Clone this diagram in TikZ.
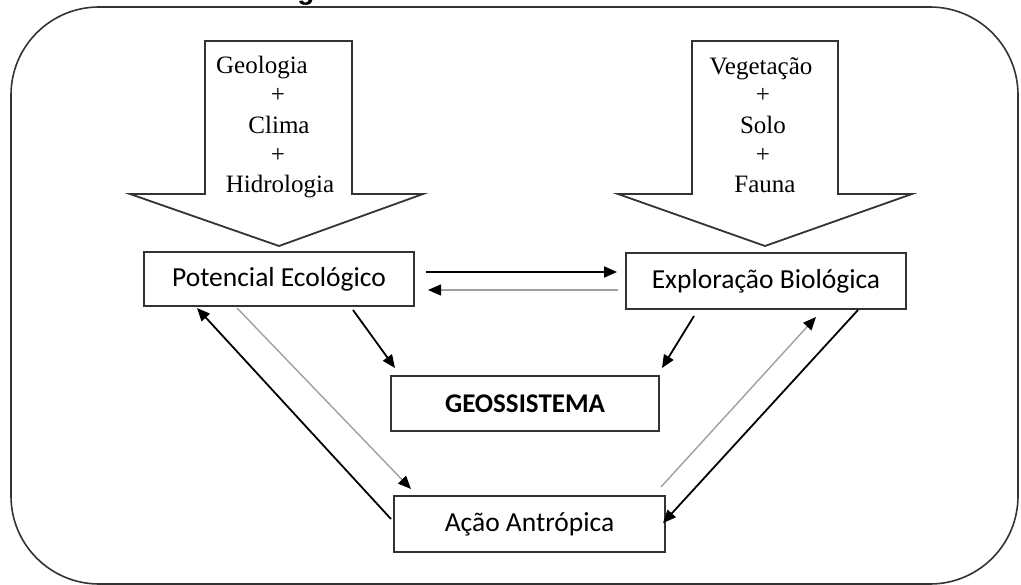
\documentclass[tikz,border=0pt]{standalone}
\usepackage{fontspec}
\setmainfont{Liberation Serif}
\newfontfamily\calib{Carlito}
\newfontfamily\arialb{Liberation Sans}
\usetikzlibrary{arrows.meta}
\definecolor{edge}{HTML}{333333}
\definecolor{lite}{HTML}{A0A0A0}
\tikzset{
  boxnode/.style={draw=edge, line width=2pt, fill=white, inner sep=0pt, font=\calib\fontsize{27.5}{30}\selectfont},
  blockarrow/.style={draw=edge, line width=1.8pt, fill=white, line join=miter},
  sertext/.style={inner sep=0pt, anchor=base, font=\fontsize{25}{30}\selectfont},
  blackarrow/.style={draw=black, line width=1.8pt, -{Triangle[length=13pt,width=11pt]}},
  greyarrow/.style={draw=lite, line width=1.4pt, -{Triangle[length=13pt,width=11pt,color=black,fill=black]}},
}
\begin{document}
\begin{tikzpicture}[x=1pt,y=-1pt]
\useasboundingbox (0,0) rectangle (1021,585);
\fill[white] (0,0) rectangle (1021,585);
% cut-off title fragment
\node[inner sep=0pt, anchor=base, font=\arialb\bfseries\fontsize{28}{30}\selectfont] (title) at (306,-0.5) {g};
% outer frame
\draw[draw=edge, line width=1.6pt, rounded corners=88pt] (11,7) rectangle (1018,584);
% block arrows
\draw[blockarrow] (205,41) -- (352,41) -- (352,194) -- (423,194) -- (279,246) -- (130,194) -- (205,194) -- cycle;
\draw[blockarrow] (692,41) -- (838,41) -- (838,194) -- (912,194) -- (765,246) -- (618,194) -- (692,194) -- cycle;
% texts of block arrows
\node[sertext] (t1) at (262,74) {Geologia};
\node[sertext] (t2) at (278,103) {+};
\node[sertext] (t3) at (279,134) {Clima};
\node[sertext] (t4) at (278,163) {+};
\node[sertext] (t5) at (280,193) {Hidrologia};
\node[sertext] (u1) at (761,75) {Vegetação};
\node[sertext] (u2) at (763,103) {+};
\node[sertext] (u3) at (763,134) {Solo};
\node[sertext] (u4) at (763,163) {+};
\node[sertext] (u5) at (765,193) {Fauna};
% boxes
\node[boxnode, minimum width=270pt, minimum height=54pt] (PE) at (279,279) {Potencial Ecológico\hspace{16pt}};
\node[boxnode, minimum width=280pt, minimum height=56pt] (EB) at (766,281) {Exploração Biológica\hspace{10pt}};
\node[boxnode, minimum width=268pt, minimum height=55pt, font=\calib\bfseries\fontsize{27}{30}\selectfont] (GEO) at (525,403.5) {GEOSSISTEMA};
\node[boxnode, minimum width=271pt, minimum height=56pt] (AA) at (529.5,524) {Ação Antrópica};
% connectors
\draw[blackarrow] ([xshift=11pt,yshift=7pt]PE.east) -- ([xshift=-8pt,yshift=9pt]EB.west);
\draw[greyarrow] ([xshift=-7pt,yshift=-9pt]EB.west) -- ([xshift=13pt,yshift=-11pt]PE.east);
\draw[blackarrow] ([xshift=74pt,yshift=-3pt]PE.south) -- ([xshift=5pt,yshift=7pt]GEO.north west);
\draw[blackarrow] ([xshift=-72pt,yshift=-6pt]EB.south) -- ([xshift=2pt,yshift=7pt]GEO.north east);
\draw[blackarrow] ([xshift=-2pt,yshift=5pt]AA.west) -- ([xshift=-82pt,yshift=-1pt]PE.south);
\draw[greyarrow] ([xshift=-42pt,yshift=-1pt]PE.south) -- ([xshift=18pt,yshift=6pt]AA.north west);
\draw[greyarrow] ([xshift=-5pt,yshift=8pt]AA.north east) -- ([xshift=50pt,yshift=-7pt]EB.south);
\draw[blackarrow] ([xshift=92pt]EB.south) -- ([xshift=-3pt,yshift=1pt]AA.east);
\end{tikzpicture}
\end{document}
